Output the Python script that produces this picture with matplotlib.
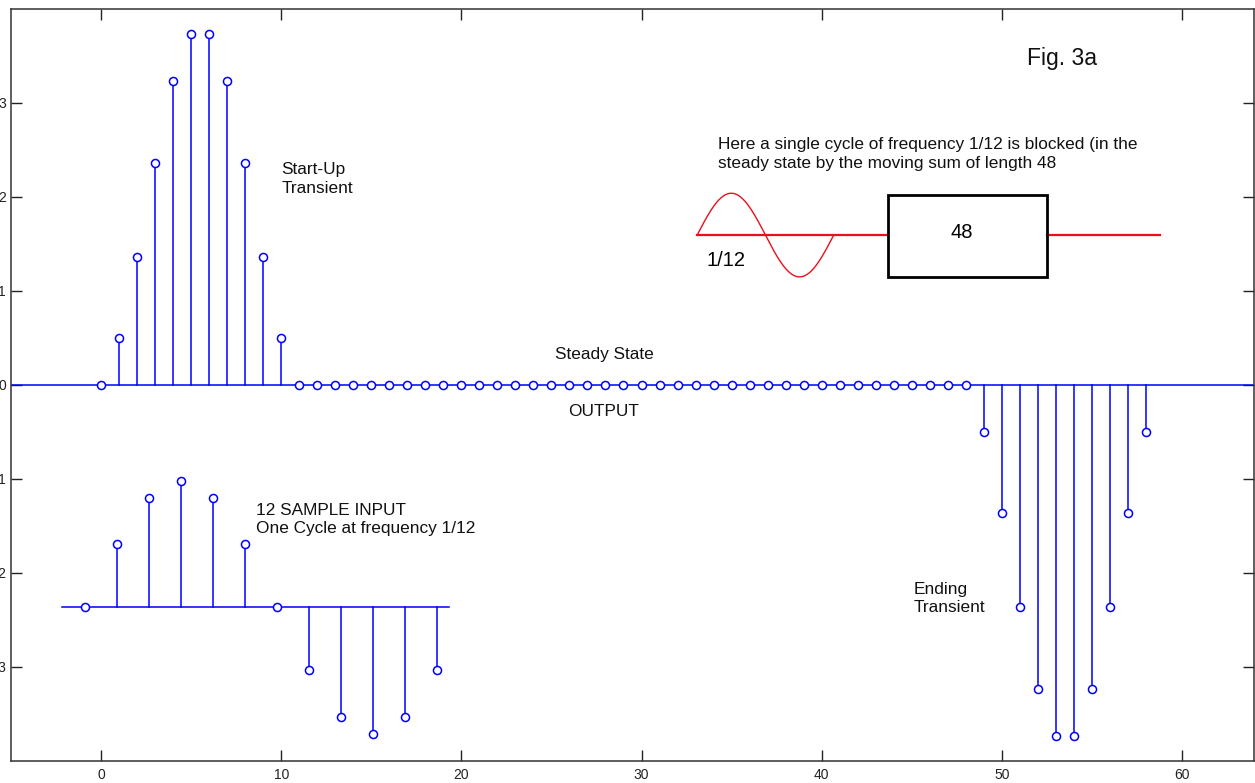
import numpy as np
import matplotlib
matplotlib.use('Agg')
from matplotlib import pyplot as plt
from matplotlib.patches import Rectangle

plt.rcParams['font.family'] = ['Liberation Sans', 'DejaVu Sans']

# output of the moving sum (length 48) for one cycle of frequency 1/12
out_n = list(range(0, 59))
out_val = ([0.0, 0.5, 1.366, 2.366, 3.232, 3.732, 3.732, 3.232, 2.366, 1.366, 0.5]
           + [0.0] * 38
           + [-0.5, -1.366, -2.366, -3.232, -3.732, -3.732, -3.232, -2.366, -1.366, -0.5])

# 12 sample input, drawn shifted and squeezed below the output
in_base = -2.367
in_x = [-0.89, 0.89, 2.67, 4.44, 6.22, 8.0, 9.78, 11.56, 13.33, 15.11, 16.89, 18.67]
in_val = [-2.367, -1.695, -1.2, -1.022, -1.2, -1.695,
          -2.367, -3.033, -3.532, -3.709, -3.532, -3.033]
in_span = (-2.17, 19.33)

BLUE = '#0000ff'
RED = '#e8101a'


def stems(ax, x, y, bottom):
    for xi, yi in zip(x, y):
        if yi != bottom:
            ax.plot([xi, xi], [bottom, yi], color=BLUE, lw=1.1, zorder=2)
    ax.plot(x, y, 'o', color=BLUE, mfc='white', mec=BLUE, ms=5.8, mew=1.1, zorder=3)


def main():
    fig = plt.figure(figsize=(12.55, 7.83), dpi=100)
    ax = fig.add_axes([11 / 1255, 22 / 783, 1243 / 1255, 752 / 783])
    ax.set_xlim(-5, 64)
    ax.set_ylim(-4, 4)

    ax.axhline(0, color=BLUE, lw=1.1, zorder=2)
    stems(ax, out_n, out_val, 0)

    ax.plot(in_span, [in_base, in_base], color=BLUE, lw=1.1, zorder=2)
    stems(ax, in_x, in_val, in_base)

    ax.set_xticks([0, 10, 20, 30, 40, 50, 60])
    ax.set_yticks([-3, -2, -1, 0, 1, 2, 3])
    ax.tick_params(direction='in', length=8, width=1, top=True, right=True,
                   labelsize=10, colors='#222222')
    ax.tick_params(axis='x', pad=5)
    ax.tick_params(axis='y', pad=3.6)
    for s in ax.spines.values():
        s.set_linewidth(1.1)
        s.set_color('#333333')

    txt = dict(fontsize=12.4, color='#111111', va='center', ha='left', linespacing=1.3)
    ax.text(10.0, 2.19, 'Start-Up\nTransient', **txt)
    ax.text(25.2, 0.32, 'Steady State', **txt)
    ax.text(25.9, -0.28, 'OUTPUT', **txt)
    ax.text(8.6, -1.43, '12 SAMPLE INPUT\nOne Cycle at frequency 1/12', **txt)
    ax.text(45.1, -2.27, 'Ending\nTransient', **txt)
    ax.text(34.24, 2.457, 'Here a single cycle of frequency 1/12 is blocked (in the\n'
            'steady state by the moving sum of length 48', **txt)
    ax.text(51.4, 3.47, 'Fig. 3a', fontsize=16.5, va='center', ha='left', color='#111111')

    # block diagram: sine -> [48] -> line
    ly = 1.595
    ax.plot([33.09, 43.68], [ly, ly], color=RED, lw=1.6)
    ax.plot([52.5, 58.79], [ly, ly], color=RED, lw=1.6)
    t = np.linspace(0, 1, 200)
    ax.plot(33.09 + 7.58 * t, ly + 0.445 * np.sin(2 * np.pi * t), color=RED, lw=1.0)
    ax.add_patch(Rectangle((43.68, 1.147), 52.5 - 43.68, 2.024 - 1.147,
                           fill=False, ec='black', lw=2.0, zorder=4))
    ax.text(47.8, 1.62, '48', fontsize=14.5, ha='center', va='center')
    ax.text(33.6, 1.32, '1/12', fontsize=14.5, ha='left', va='center')

    fig.savefig('out.png', dpi=100)


main()
